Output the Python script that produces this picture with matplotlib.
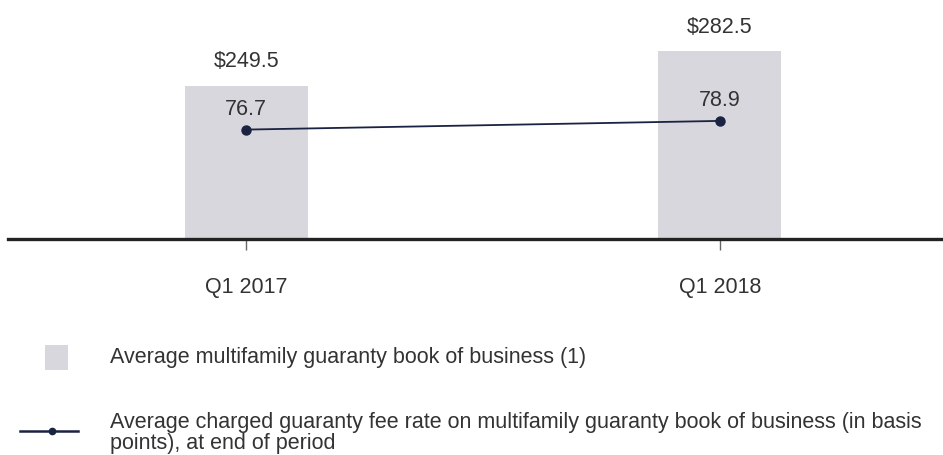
import matplotlib.pyplot as plt
from matplotlib.patches import Rectangle
from matplotlib.lines import Line2D

plt.rcParams['font.family'] = ['Liberation Sans', 'DejaVu Sans']

# data
periods = ['Q1 2017', 'Q1 2018']
book = [249.5, 282.5]          # $ billions
fee_bp = [76.7, 78.9]          # basis points
legend_labels = ['Average multifamily guaranty book of business (1)',
                 'Average charged guaranty fee rate on multifamily guaranty book of business (in basis\npoints), at end of period']

bar_color = '#d8d7de'
line_color = '#1b2342'
text_color = '#333333'
fs = 15.5
W, H = 943, 456

fig = plt.figure(figsize=(W / 100, H / 100), dpi=100)
ax = fig.add_axes([8 / W, 1 - 240 / H, 1 - 8 / W, 220 / H])
x = list(range(len(periods)))

ax.bar(x, book, width=0.26, color=bar_color, zorder=1)
ax.set_xlim(-0.503, 1.471)
ax.set_ylim(102.4, 313.5)
for s in ['top', 'right', 'left']:
    ax.spines[s].set_visible(False)
ax.spines['bottom'].set_linewidth(2.4)
ax.spines['bottom'].set_color('#222222')
ax.set_yticks([])
ax.set_xticks(x, periods)
ax.tick_params(axis='x', length=8, width=1, color='#666666', pad=19,
               labelsize=fs, labelcolor=text_color)
for xi, v in zip(x, book):
    ax.annotate(f'${v}', (xi, v), xytext=(0, 25), textcoords='offset pixels',
                ha='center', va='center', fontsize=fs, color=text_color)

ax2 = ax.twinx()
ax2.set_ylim(49.0, 104.7)
ax2.plot(x, fee_bp, color=line_color, lw=1.3, marker='o', ms=6.5, zorder=3)
for s in ax2.spines.values():
    s.set_visible(False)
ax2.set_yticks([])
for xi, v in zip(x, fee_bp):
    ax2.annotate(f'{v}', (xi, v), xytext=(0, 21), textcoords='offset pixels',
                 ha='center', va='center', fontsize=fs, color=text_color)

# legend drawn by hand in figure pixels
def fx(px):
    return px / W

def fy(py):
    return 1 - py / H

fig.add_artist(Rectangle((fx(45), fy(371)), fx(23), 25 / H, transform=fig.transFigure,
                         color=bar_color, lw=0))
fig.text(fx(110), fy(358), legend_labels[0], ha='left', va='center',
         fontsize=fs, color=text_color)
fig.add_artist(Line2D([fx(20), fx(78)], [fy(432), fy(432)], transform=fig.transFigure,
                      color=line_color, lw=1.8))
fig.add_artist(Line2D([fx(52)], [fy(432)], transform=fig.transFigure,
                      color=line_color, marker='o', ms=4.5))
fig.text(fx(110), fy(433), legend_labels[1], ha='left', va='center',
         fontsize=fs, color=text_color, linespacing=1.06)

fig.savefig('out.png', dpi=100)
